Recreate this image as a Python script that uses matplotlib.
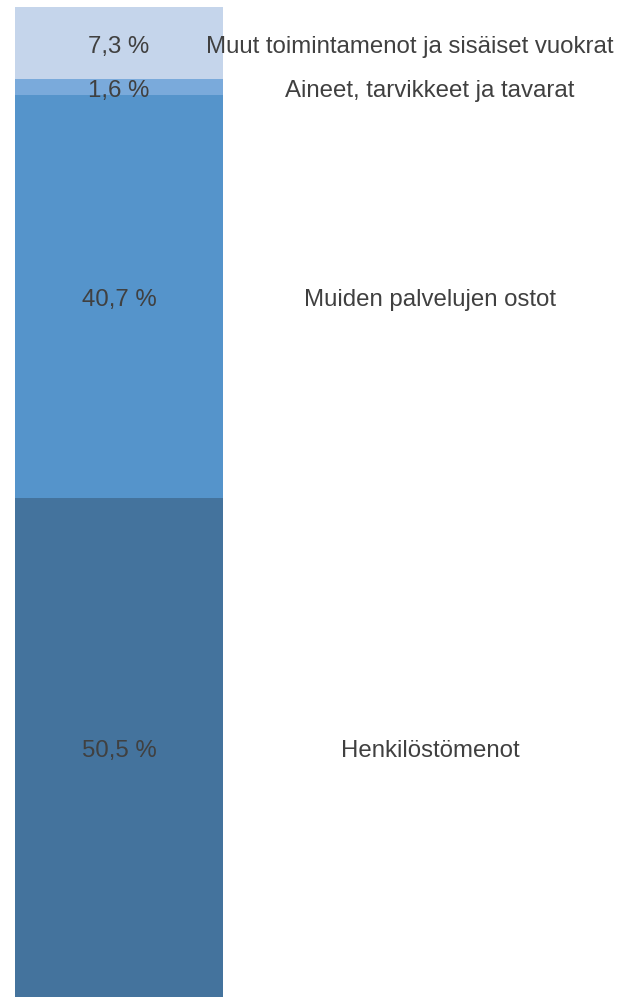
import matplotlib
matplotlib.use("Agg")
import matplotlib.pyplot as plt
from matplotlib.transforms import offset_copy

categories = ["Henkilöstömenot", "Muiden palvelujen ostot",
              "Aineet, tarvikkeet ja tavarat", "Muut toimintamenot ja sisäiset vuokrat"]
values = [50.5, 40.7, 1.6, 7.3]
pct_labels = ["50,5 %", "40,7 %", "1,6 %", "7,3 %"]
colors = ["#44739D", "#5594CB", "#7AAADB", "#C5D5EB"]

plt.rcParams['font.family'] = ['Liberation Sans', 'DejaVu Sans']

W, H = 629, 997
fig = plt.figure(figsize=(W / 100, H / 100), dpi=100)
ax = fig.add_axes([0, 0, 1, 990 / 997])
ax.set_xlim(0, W)
total = sum(values)
ax.set_ylim(0, total)
ax.axis("off")

bar_x, bar_w = 119, 208
label_x = 430
text_color = "#404040"
fs = 17.3
# baseline sits ~9.5 px below segment centre
tr = offset_copy(ax.transData, fig=fig, x=0, y=-9.5 * 72 / 100, units="points")

bottom = 0
for v, c, p, cat in zip(values, colors, pct_labels, categories):
    ax.bar(bar_x, v, width=bar_w, bottom=bottom, color=c, linewidth=0)
    yc = bottom + v / 2
    ax.text(bar_x, yc, p, ha="center", va="baseline", fontsize=fs,
            color=text_color, transform=tr)
    ax.text(label_x, yc, cat, ha="center", va="baseline", fontsize=fs,
            color=text_color, transform=tr)
    bottom += v

# keep labels inside the figure (shift left if they overflow the right edge)
fig.canvas.draw()
r = fig.canvas.get_renderer()
for t in ax.texts:
    bb = t.get_window_extent(r)
    if bb.x1 > W - 16:
        shift = bb.x1 - (W - 16)
        x, y = t.get_position()
        t.set_position((x - shift, y))

fig.savefig("out.png", dpi=100)
